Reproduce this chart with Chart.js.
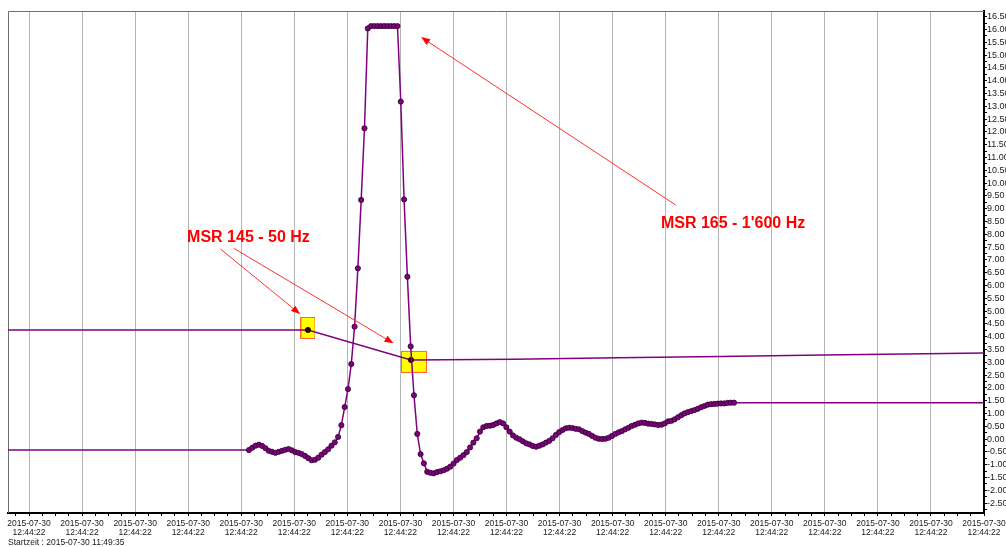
<!DOCTYPE html>
<html>
<head>
<meta charset="utf-8">
<script src="https://cdn.jsdelivr.net/npm/chart.js@4.4.1/dist/chart.umd.min.js"></script>
<style>
  html, body { margin: 0; padding: 0; background: #fff; overflow: hidden; }
  #wrap { width: 1006px; height: 547px; }
</style>
</head>
<body>
<div id="wrap"><canvas id="chart" width="1006" height="547"></canvas></div>
<script>
// time axis labels (the export prints the same stamp under every grid line)
const xTickLabels = new Array(19).fill(["2015-07-30", "12:44:22"]);
const startText = "Startzeit : 2015-07-30 11:49:35";

// MSR 165, 1'600 Hz samples; x measured in grid divisions
const hz1600Start = 4.146;
const hz1600Step = 0.0622;
const hz1600Values = [
  -0.43, -0.34, -0.26, -0.22, -0.27, -0.36, -0.46, -0.50, -0.54, -0.50,
  -0.46, -0.42, -0.39, -0.44, -0.51, -0.54, -0.59, -0.66, -0.75, -0.83,
  -0.81, -0.73, -0.61, -0.51, -0.40, -0.26, -0.13, 0.08, 0.54, 1.25,
  1.95, 2.93, 4.39, 6.67, 9.34, 12.14, 16.04, 16.13, 16.13, 16.13,
  16.13, 16.13, 16.13, 16.13, 16.13, 16.13, 13.18, 9.36, 6.34, 3.62,
  1.71, 0.20, -0.59, -0.95, -1.28, -1.32, -1.34, -1.29, -1.26, -1.22,
  -1.16, -1.08, -0.96, -0.82, -0.73, -0.63, -0.51, -0.33, -0.14, 0.03,
  0.29, 0.46, 0.51, 0.52, 0.55, 0.61, 0.66, 0.61, 0.46, 0.29,
  0.14, 0.05, -0.01, -0.09, -0.17, -0.21, -0.27, -0.30, -0.26, -0.21,
  -0.14, -0.07, 0.03, 0.16, 0.27, 0.35, 0.42, 0.44, 0.43, 0.40,
  0.38, 0.31, 0.25, 0.20, 0.12, 0.05, 0.01, 0.00, 0.01, 0.05,
  0.12, 0.20, 0.26, 0.31, 0.38, 0.44, 0.51, 0.56, 0.61, 0.64,
  0.63, 0.60, 0.59, 0.57, 0.55, 0.56, 0.61, 0.69, 0.71, 0.77,
  0.85, 0.93, 1.00, 1.05, 1.09, 1.13, 1.18, 1.24, 1.29, 1.34,
  1.36, 1.37, 1.38, 1.39, 1.39, 1.41, 1.42, 1.42
];

// MSR 145, 50 Hz
const hz50X = [-0.565, 1.376, 3.317, 5.258, 7.199, 9.140, 11.081, 13.022, 14.963, 16.904, 18.845];
const hz50Values = [4.26, 4.26, 4.26, 4.26, 3.09, 3.12, 3.17, 3.22, 3.28, 3.33, 3.39];
const hz50Marked = [3, 4];

// red call-outs: text anchor and arrows [fromX, fromY, toX, toY] in data units
const notes = [
  { text: "MSR 165 - 1'600 Hz", x: 11.91, y: 8.40, arrows: [[12.19, 9.14, 7.39, 15.70]] },
  { text: "MSR 145 - 50 Hz", x: 2.98, y: 7.85, arrows: [[3.61, 7.42, 5.11, 4.88], [3.86, 7.45, 6.87, 3.74]] }
];

const X_MIN = -0.396, X_MAX = 18;
const Y_MIN = -2.89, Y_MAX = 16.72;
const PURPLE = "#800080";

const isWhole = v => Math.abs(v - Math.round(v)) < 1e-6;

// yellow marker box, optionally drawn a little off the point centre
function makeBox(w, h, dx, dy) {
  const mx = Math.ceil(Math.abs(dx)), my = Math.ceil(Math.abs(dy));
  const c = document.createElement("canvas");
  c.width = w + 2 * mx; c.height = h + 2 * my;
  const g = c.getContext("2d");
  const left = mx + dx, top = my + dy;
  g.fillStyle = "#ffff00";
  g.fillRect(left, top, w, h);
  g.strokeStyle = "#ff6a30";
  g.lineWidth = 1;
  g.strokeRect(left + 0.5, top + 0.5, w - 1, h - 1);
  return c;
}
const boxImages = [makeBox(15, 22, 0, -2), makeBox(26, 22, 3, 2)];

const pts1600 = [{ x: X_MIN - 1, y: hz1600Values[0] }]
  .concat(hz1600Values.map((v, i) => ({ x: hz1600Start + i * hz1600Step, y: v })))
  .concat([{ x: X_MAX + 1, y: hz1600Values[hz1600Values.length - 1] }]);
const pts50 = hz50X.map((x, i) => ({ x, y: hz50Values[i] }));

// top and left edge of the plot frame
const FramePlugin = {
  id: "frame",
  beforeDatasetsDraw(chart) {
    const { ctx, chartArea: a } = chart;
    ctx.save();
    ctx.strokeStyle = "#6f6f6f";
    ctx.lineWidth = 1;
    ctx.beginPath();
    ctx.moveTo(a.left + 0.5, a.bottom);
    ctx.lineTo(a.left + 0.5, a.top + 0.5);
    ctx.lineTo(a.right, a.top + 0.5);
    ctx.stroke();
    ctx.restore();
  }
};

const NotesPlugin = {
  id: "notes",
  afterDatasetsDraw(chart) {
    const { ctx, scales: { x, y } } = chart;
    ctx.save();
    notes.forEach(n => {
      n.arrows.forEach(([x0, y0, x1, y1]) => {
        const ax = x.getPixelForValue(x0), ay = y.getPixelForValue(y0);
        const bx = x.getPixelForValue(x1), by = y.getPixelForValue(y1);
        const ang = Math.atan2(by - ay, bx - ax);
        const len = 9, half = 3.5;
        const cs = Math.cos(ang), sn = Math.sin(ang);
        ctx.strokeStyle = "#ff3030";
        ctx.lineWidth = 1;
        ctx.beginPath();
        ctx.moveTo(ax, ay);
        ctx.lineTo(bx - len * cs * 0.8, by - len * sn * 0.8);
        ctx.stroke();
        ctx.fillStyle = "#ff0000";
        ctx.beginPath();
        ctx.moveTo(bx, by);
        ctx.lineTo(bx - len * cs + half * sn, by - len * sn - half * cs);
        ctx.lineTo(bx - len * cs - half * sn, by - len * sn + half * cs);
        ctx.closePath();
        ctx.fill();
      });
      ctx.font = 'bold 16px "Liberation Sans", Arial, sans-serif';
      ctx.fillStyle = "#ff0000";
      ctx.textAlign = "left";
      ctx.textBaseline = "middle";
      ctx.fillText(n.text, x.getPixelForValue(n.x), y.getPixelForValue(n.y));
    });
    ctx.restore();
  }
};

Chart.defaults.font.family = '"Liberation Sans", Arial, sans-serif';

new Chart(document.getElementById("chart"), {
  type: "line",
  data: {
    datasets: [
      {
        label: "MSR 165 - 1'600 Hz",
        data: pts1600,
        borderColor: PURPLE,
        borderWidth: 1.5,
        tension: 0,
        pointRadius: c => (c.dataIndex === 0 || c.dataIndex === pts1600.length - 1) ? 0 : 2.6,
        pointBackgroundColor: PURPLE,
        pointBorderColor: "#2a002a",
        pointBorderWidth: 0.8,
        order: 1
      },
      {
        label: "MSR 145 - 50 Hz",
        data: pts50,
        borderColor: PURPLE,
        borderWidth: 1.5,
        tension: 0,
        pointRadius: c => hz50Marked.includes(c.dataIndex) ? 2.6 : 0,
        pointBackgroundColor: "#3b0012",
        pointBorderColor: "#1a0008",
        pointBorderWidth: 0.8,
        order: 2
      },
      {
        label: "markers",
        data: hz50Marked.map(i => pts50[i]),
        showLine: false,
        pointStyle: boxImages,
        pointRadius: 5,
        order: 3
      }
    ]
  },
  options: {
    responsive: false,
    animation: false,
    events: [],
    devicePixelRatio: 1,
    layout: { padding: { left: 8, top: 11, right: 0, bottom: 0 } },
    plugins: {
      legend: { display: false },
      tooltip: { enabled: false },
      title: {
        display: true,
        text: startText,
        position: "bottom",
        align: "start",
        color: "#1a1a1a",
        font: { size: 8.5, weight: "normal", lineHeight: "9px" },
        padding: { top: 2, bottom: 0 }
      }
    },
    scales: {
      x: {
        type: "linear",
        position: "bottom",
        min: X_MIN,
        max: X_MAX,
        grid: {
          color: c => (c.tick && isWhole(c.tick.value)) ? "#b4b4b4" : "rgba(0,0,0,0)",
          tickColor: "#000",
          tickLength: 3
        },
        border: { color: "#000", width: 2 },
        ticks: {
          stepSize: 0.25,
          autoSkip: false,
          includeBounds: false,
          maxRotation: 0,
          minRotation: 0,
          padding: 3.5,
          color: "#1a1a1a",
          font: { size: 8.5, lineHeight: "9px" },
          callback: v => isWhole(v) ? xTickLabels[Math.round(v)] : ""
        },
        afterFit: s => { s.height = 23; s.paddingLeft = 0; s.paddingRight = 0; }
      },
      y: {
        type: "linear",
        position: "right",
        min: Y_MIN,
        max: Y_MAX,
        grid: { drawOnChartArea: false, tickColor: "#000", tickLength: 3 },
        border: { color: "#000", width: 2 },
        ticks: {
          stepSize: 0.25,
          autoSkip: false,
          includeBounds: false,
          padding: 0,
          color: "#1a1a1a",
          font: { size: 9 },
          callback: v => isWhole(v * 2) ? v.toFixed(2) : ""
        },
        afterFit: s => { s.width = 22; }
      }
    }
  },
  plugins: [FramePlugin, NotesPlugin]
});
</script>
</body>
</html>
